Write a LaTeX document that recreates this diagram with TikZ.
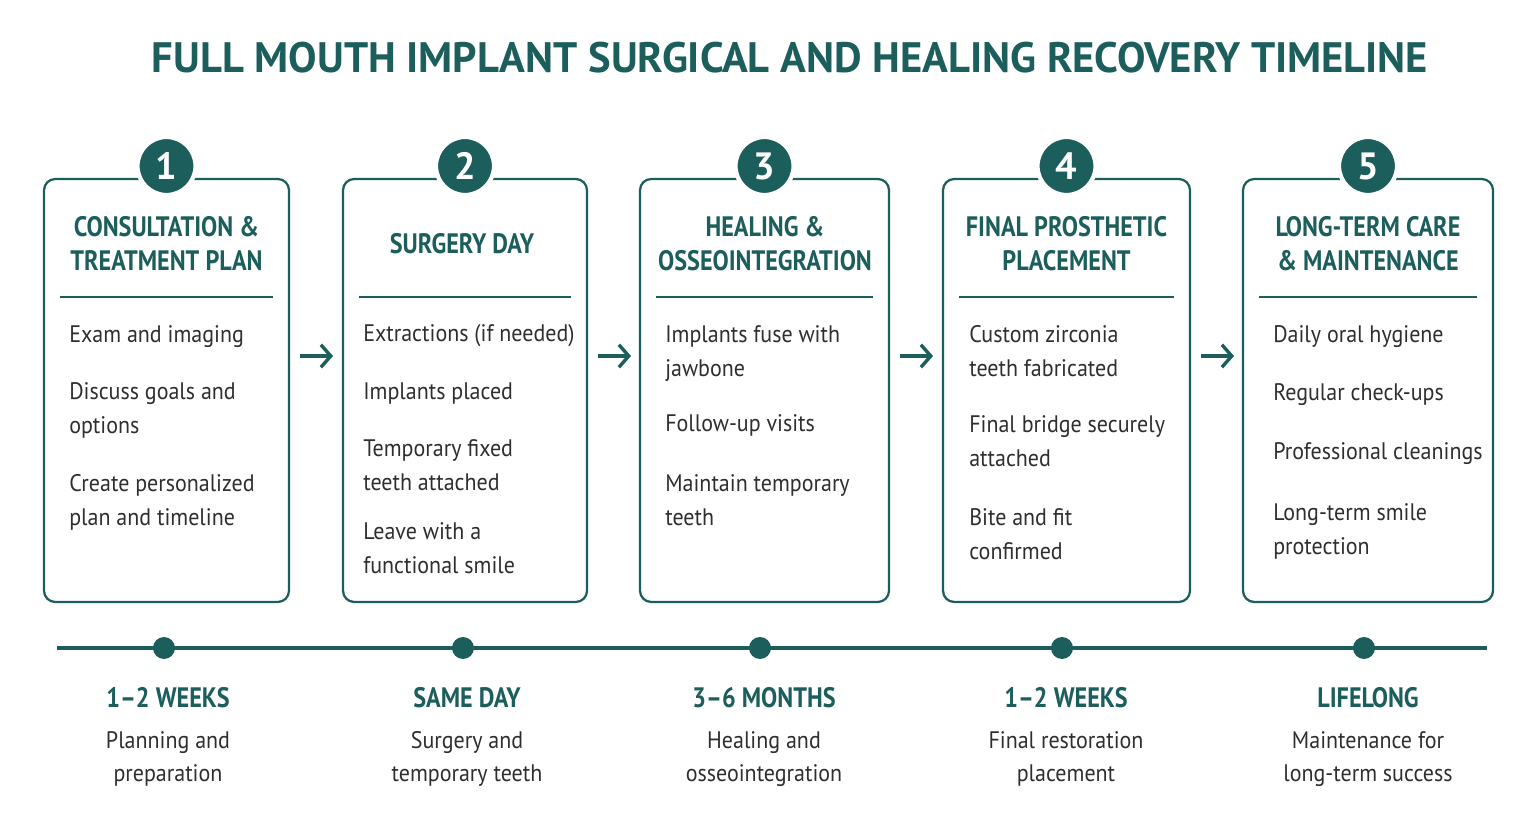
\documentclass[tikz,border=0pt]{standalone}
\usepackage{fontspec}
\setmainfont{PT Sans}
\usetikzlibrary{arrows.meta}
\definecolor{teal}{HTML}{1B5E5C}
\definecolor{txt}{HTML}{2E2E2E}
\newcommand\Ls[1]{\scalebox{0.92}[1]{\begin{tabular}[t]{@{}l@{}}#1\end{tabular}}}
\newcommand\Hs[1]{\scalebox{0.86}[1]{\begin{tabular}{@{}c@{}}#1\end{tabular}}}
\begin{document}
\begin{tikzpicture}[x=0.025cm,y=-0.025cm,
 box/.style={draw=teal,line width=1.6pt,rounded corners=8pt},
 num/.style={circle,fill=teal,draw=white,line width=3pt,minimum size=58*0.025cm,text=white,font=\bfseries\fontsize{27}{27}\selectfont,inner sep=0pt},
 head/.style={align=center,text=teal,inner sep=0pt,font=\bfseries\fontsize{20}{24}\selectfont},
 body/.style={anchor=base west,text=txt,inner sep=0pt,font=\fontsize{17}{23.5}\selectfont},
 arr/.style={-{Straight Barb[length=7pt,width=16pt,line width=2.4pt]},teal,line width=2.4pt},
 dot/.style={circle,fill=teal,minimum size=22*0.025cm,inner sep=0pt},
 tl/.style={text=teal,font=\bfseries\fontsize{20}{24}\selectfont},
 tb/.style={align=center,text=txt,font=\fontsize{17}{23.5}\selectfont}]
\useasboundingbox (0,0) rectangle (1533,832);
\node[text=teal,font=\bfseries] (title) at (790,58) {\resizebox{31.9cm}{!}{FULL MOUTH IMPLANT SURGICAL AND HEALING RECOVERY TIMELINE}};
% boxes
\foreach \l/\r/\n in {44/289/1,343/587/2,640/889/3,943/1190/4,1243/1493/5}{
 \draw[box] (\l,179) rectangle (\r,602);
 \draw[teal,line width=1.3pt] (\l+16,297) -- (\r-16,297);
 \node[num] (c\n) at ({(\l+\r)/2},166) {\n};
}
\node[head] (h1) at (166.5,247) {\Hs{CONSULTATION \&\\TREATMENT PLAN}};
\node[head] (h2) at (462,247) {\Hs{SURGERY DAY}};
\node[head] (h3) at (765,247) {\Hs{HEALING \&\\OSSEOINTEGRATION}};
\node[head] (h4) at (1066.5,247) {\Hs{FINAL PROSTHETIC\\PLACEMENT}};
\node[head] (h5) at (1368,247) {\Hs{LONG-TERM CARE\\\& MAINTENANCE}};
% bullets
\node[body] (a1) at (69,343) {\Ls{Exam and imaging}};
\node[body] (a2) at (69,400) {\Ls{Discuss goals and\\options}};
\node[body] (a3) at (69,492) {\Ls{Create personalized\\plan and timeline}};
\node[body] (b1) at (363,342) {\Ls{Extractions (if needed)}};
\node[body] (b2) at (363,400) {\Ls{Implants placed}};
\node[body] (b3) at (363,457) {\Ls{Temporary fixed\\teeth attached}};
\node[body] (b4) at (363,540) {\Ls{Leave with a\\functional smile}};
\node[body] (d1) at (665,343) {\Ls{Implants fuse with\\jawbone}};
\node[body] (d2) at (665,432) {\Ls{Follow-up visits}};
\node[body] (d3) at (665,492) {\Ls{Maintain temporary\\teeth}};
\node[body] (e1) at (969,343) {\Ls{Custom zirconia\\teeth fabricated}};
\node[body] (e2) at (969,433) {\Ls{Final bridge securely\\attached}};
\node[body] (e3) at (969,526) {\Ls{Bite and fit\\confirmed}};
\node[body] (f1) at (1273,343) {\Ls{Daily oral hygiene}};
\node[body] (f2) at (1273,401) {\Ls{Regular check-ups}};
\node[body] (f3) at (1273,460) {\Ls{Professional cleanings}};
\node[body] (f4) at (1273,521) {\Ls{Long-term smile\\protection}};
% arrows
\foreach \x/\i in {300/1,598/2,900/3,1201/4}{
 \coordinate (s\i) at (\x,356); \coordinate (t\i) at (\x+33,356);
 \draw[arr] (s\i) -- (t\i);
}
% timeline
\coordinate (L) at (57,648); \coordinate (R) at (1487,648);
\draw[teal,line width=2.6pt] (L) -- (R);
\foreach \x/\i/\a/\b/\c in {164/1/1–2 WEEKS/Planning and/preparation,463/2/SAME DAY/Surgery and/temporary teeth,760/3/3–6 MONTHS/Healing and/osseointegration,1062/4/1–2 WEEKS/Final restoration/placement,1364/5/LIFELONG/Maintenance for/long-term success}{
 \node[dot] (p\i) at (\x,648) {};
 \node[tl] (q\i) at (\x+4,698) {\scalebox{0.86}[1]{\a}};
 \node[tb] (r\i) at (\x+4,758) {\scalebox{0.92}[1]{\begin{tabular}{@{}c@{}}\b\\\c\end{tabular}}};
}
\end{tikzpicture}
\end{document}
